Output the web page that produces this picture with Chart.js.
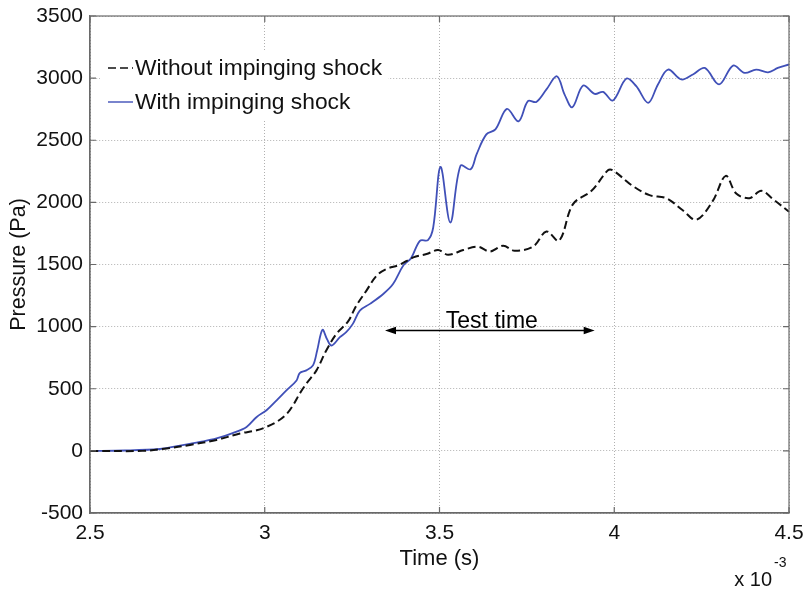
<!DOCTYPE html>
<html>
<head>
<meta charset="utf-8">
<script src="https://cdn.jsdelivr.net/npm/chart.js@4/dist/chart.umd.min.js"></script>
<style>
  html, body { margin: 0; padding: 0; background: #fff; }
  #wrap { width: 807px; height: 590px; }
</style>
</head>
<body>
<div id="wrap"><canvas id="c" width="807" height="590"></canvas></div>
<script>
// Wall pressure histories (time in units of 1e-3 s, pressure in Pa)
const timeWith = [2.50, 2.60, 2.70, 2.748, 2.815, 2.862, 2.910, 2.948, 2.977, 3.005, 3.034, 3.062, 3.091, 3.100, 3.119, 3.138, 3.150, 3.165, 3.178, 3.191, 3.215, 3.233, 3.252, 3.272, 3.301, 3.339, 3.367, 3.396, 3.419, 3.444, 3.467, 3.482, 3.503, 3.531, 3.560, 3.589, 3.606, 3.634, 3.660, 3.693, 3.726, 3.753, 3.777, 3.806, 3.836, 3.858, 3.880, 3.911, 3.944, 3.968, 3.996, 4.035, 4.063, 4.097, 4.125, 4.154, 4.192, 4.225, 4.259, 4.300, 4.340, 4.373, 4.406, 4.440, 4.468, 4.500];
const pressureWith = [0, 3, 15, 38, 72, 100, 145, 193, 273, 327, 407, 487, 567, 626, 648, 688, 808, 974, 900, 848, 915, 955, 1022, 1129, 1183, 1263, 1343, 1490, 1553, 1691, 1697, 1798, 2285, 1838, 2295, 2266, 2387, 2547, 2587, 2752, 2652, 2815, 2808, 2909, 3015, 2868, 2766, 2941, 2873, 2889, 2820, 2997, 2935, 2801, 2949, 3069, 2989, 3029, 3082, 2949, 3101, 3042, 3069, 3047, 3082, 3110];

const timeWithout = [2.50, 2.65, 2.719, 2.786, 2.862, 2.929, 2.977, 3.005, 3.034, 3.062, 3.081, 3.100, 3.119, 3.148, 3.176, 3.205, 3.238, 3.262, 3.291, 3.320, 3.348, 3.386, 3.425, 3.463, 3.496, 3.525, 3.568, 3.610, 3.644, 3.682, 3.715, 3.768, 3.806, 3.842, 3.882, 3.935, 3.982, 3.996, 4.053, 4.101, 4.149, 4.196, 4.235, 4.282, 4.319, 4.349, 4.387, 4.421, 4.454, 4.500];
const pressureWithout = [0, 0, 19, 48, 88, 140, 166, 193, 233, 295, 367, 461, 541, 648, 808, 942, 1040, 1169, 1290, 1410, 1464, 1498, 1557, 1584, 1616, 1578, 1616, 1643, 1605, 1651, 1611, 1645, 1766, 1691, 1986, 2093, 2258, 2258, 2132, 2058, 2034, 1937, 1860, 2012, 2213, 2071, 2034, 2093, 2026, 1925];

const seriesLabels = ['Without impinging shock', 'With impinging shock'];
const xTicks = [2.5, 3, 3.5, 4, 4.5];
const yTicks = [-500, 0, 500, 1000, 1500, 2000, 2500, 3000, 3500];

// Test-time window marked with a double arrow
const testTimeStart = 3.344;
const testTimeEnd = 3.944;
const testTimeLevel = 969;
const testTimeText = 'Test time';

const FONT = "'Liberation Sans', Arial, Helvetica, sans-serif";
Chart.defaults.font.family = FONT;
Chart.defaults.color = '#111';

const toPoints = (xs, ys) => xs.map((x, i) => ({ x, y: ys[i] }));

// Inward tick marks, closed frame, inline legend, annotation and exponent
const matlabStyle = {
  id: 'matlabStyle',
  afterDatasetsDraw(chart) {
    const { ctx, chartArea: a, scales } = chart;
    ctx.save();
    // annotation arrow
    const xs = scales.x, ys = scales.y;
    const x1 = xs.getPixelForValue(testTimeStart);
    const x2 = xs.getPixelForValue(testTimeEnd);
    const yA = ys.getPixelForValue(testTimeLevel);
    ctx.strokeStyle = '#000';
    ctx.fillStyle = '#000';
    ctx.lineWidth = 1.6;
    ctx.beginPath();
    ctx.moveTo(x1 + 6, yA);
    ctx.lineTo(x2 - 6, yA);
    ctx.stroke();
    const head = (x, dir) => {
      ctx.beginPath();
      ctx.moveTo(x, yA);
      ctx.lineTo(x - dir * 11, yA - 3.8);
      ctx.lineTo(x - dir * 11, yA + 3.8);
      ctx.closePath();
      ctx.fill();
    };
    head(x1, -1);
    head(x2, 1);
    ctx.font = '23px ' + FONT;
    ctx.textAlign = 'center';
    ctx.textBaseline = 'alphabetic';
    ctx.fillText(testTimeText, xs.getPixelForValue((testTimeStart + testTimeEnd) / 2) + 2, yA - 2);

    // legend box inside the axes
    const lx = a.left + 10, ly = a.top + 34;
    ctx.fillStyle = '#fff';
    ctx.fillRect(lx, ly, 288, 70);
    chart.data.datasets.forEach((ds, i) => {
      const ry = ly + 18 + i * 34;
      ctx.strokeStyle = ds.borderColor;
      ctx.lineWidth = ds.borderWidth > 1.9 ? 1.6 : 1.4;
      ctx.setLineDash(ds.borderDash || []);
      ctx.beginPath();
      ctx.moveTo(lx + 8, ry);
      ctx.lineTo(lx + 33, ry);
      ctx.stroke();
      ctx.setLineDash([]);
      ctx.fillStyle = '#111';
      ctx.font = '22.8px ' + FONT;
      ctx.textAlign = 'left';
      ctx.textBaseline = 'middle';
      ctx.fillText(ds.label, lx + 35, ry + 1);
    });
    ctx.restore();
  },
  afterDraw(chart) {
    const { ctx, chartArea: a, scales } = chart;
    ctx.save();
    ctx.strokeStyle = '#6a6a6a';
    ctx.lineWidth = 1.2;
    ctx.strokeRect(a.left, a.top, a.right - a.left, a.bottom - a.top);
    const tl = 6;
    ctx.beginPath();
    scales.x.ticks.forEach(t => {
      const px = scales.x.getPixelForValue(t.value);
      ctx.moveTo(px, a.bottom); ctx.lineTo(px, a.bottom - tl);
      ctx.moveTo(px, a.top); ctx.lineTo(px, a.top + tl);
    });
    scales.y.ticks.forEach(t => {
      const py = scales.y.getPixelForValue(t.value);
      ctx.moveTo(a.left, py); ctx.lineTo(a.left + tl, py);
      ctx.moveTo(a.right, py); ctx.lineTo(a.right - tl, py);
    });
    ctx.stroke();

    // axis multiplier
    ctx.fillStyle = '#111';
    ctx.textAlign = 'right';
    ctx.textBaseline = 'alphabetic';
    ctx.font = '20px ' + FONT;
    ctx.fillText('x 10', a.right - 17, a.bottom + 73);
    ctx.textAlign = 'left';
    ctx.font = '14px ' + FONT;
    ctx.fillText('-3', a.right - 15, a.bottom + 54);
    ctx.restore();
  }
};

new Chart(document.getElementById('c'), {
  type: 'line',
  data: {
    datasets: [
      {
        label: seriesLabels[0],
        data: toPoints(timeWithout, pressureWithout),
        borderColor: '#111111',
        borderWidth: 2,
        borderDash: [8, 4],
        pointRadius: 0,
        tension: 0.35,
        fill: false
      },
      {
        label: seriesLabels[1],
        data: toPoints(timeWith, pressureWith),
        borderColor: '#4050b8',
        borderWidth: 1.8,
        pointRadius: 0,
        tension: 0.35,
        fill: false
      }
    ]
  },
  options: {
    responsive: false,
    animation: false,
    events: [],
    layout: { padding: { top: 16, right: 18, left: 0, bottom: 0 } },
    plugins: {
      legend: { display: false },
      tooltip: { enabled: false }
    },
    scales: {
      x: {
        type: 'linear',
        min: 2.5,
        max: 4.5,
        afterBuildTicks: s => { s.ticks = xTicks.map(v => ({ value: v })); },
        afterFit: s => { s.height = 77; s.paddingLeft = 0; s.paddingRight = 0; },
        ticks: {
          font: { size: 21 },
          color: '#111',
          padding: 8,
          maxRotation: 0,
          autoSkip: false,
          callback: v => String(v)
        },
        grid: { color: '#b0b0b0', lineWidth: 1, drawTicks: false },
        border: { display: true, color: '#6a6a6a', width: 1.2, dash: [1, 2] },
        title: {
          display: true,
          text: 'Time (s)',
          font: { size: 22 },
          color: '#111',
          padding: { top: 0, bottom: 18 }
        }
      },
      y: {
        type: 'linear',
        min: -500,
        max: 3500,
        afterBuildTicks: s => { s.ticks = yTicks.map(v => ({ value: v })); },
        afterFit: s => { s.width = 90; s.paddingTop = 0; s.paddingBottom = 0; },
        ticks: {
          font: { size: 21 },
          color: '#111',
          padding: 7,
          autoSkip: false,
          callback: v => String(v)
        },
        grid: { color: '#b0b0b0', lineWidth: 1, drawTicks: false },
        border: { display: true, color: '#6a6a6a', width: 1.2, dash: [1, 2] },
        title: {
          display: true,
          text: 'Pressure (Pa)',
          font: { size: 21.5 },
          color: '#111',
          padding: { top: 6, bottom: 0 }
        }
      }
    }
  },
  plugins: [matlabStyle]
});
</script>
</body>
</html>
